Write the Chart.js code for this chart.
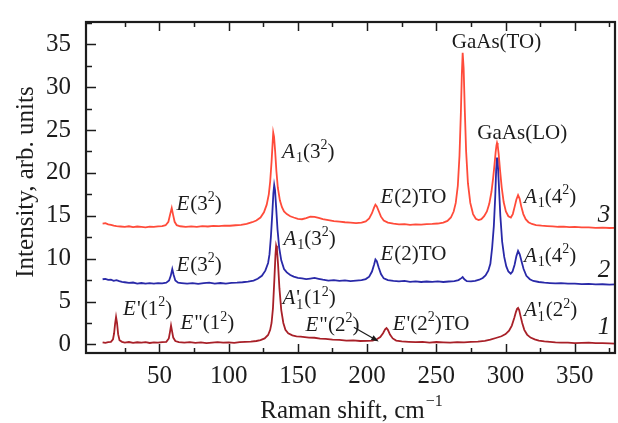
<!DOCTYPE html>
<html>
<head>
<meta charset="utf-8">
<script src="https://cdn.jsdelivr.net/npm/chart.js@4.4.0/dist/chart.umd.min.js"></script>
<style>
  html, body { margin: 0; padding: 0; background: #fff; }
</style>
</head>
<body>
<canvas id="raman" width="618" height="423"></canvas>
<script>
// spectra: [Raman shift, intensity]
const curve1 = [[9,0.25],[11,0.18],[13,0.27],[15,0.3],[16.5,0.6],[17.3,1.3],[18,2.4],[18.7,3.2],[19.4,2.5],[20.2,1.2],[21.2,0.5],[23,0.3],[25,0.22],[28,0.28],[31,0.18],[34,0.25],[37,0.2],[40,0.27],[43,0.17],[46,0.24],[49,0.2],[52,0.26],[55,0.3],[56.8,0.7],[57.6,1.4],[58.4,2.2],[59.2,1.5],[60,0.8],[61.5,0.4],[64,0.28],[68,0.2],[72,0.26],[76,0.18],[80,0.24],[84,0.15],[88,0.22],[92,0.27],[96,0.2],[100,0.25],[104,0.18],[108,0.27],[112,0.3],[116,0.33],[120,0.4],[123,0.5],[126,0.7],[128.5,1.1],[130,1.7],[131,2.5],[132,4.2],[133,7.5],[133.8,10.4],[134.3,11.5],[134.9,11.1],[135.7,9.3],[136.7,6.5],[138,4.0],[139.5,2.5],[141,1.7],[143,1.3],[146,1.05],[149,0.95],[152,0.9],[155,0.85],[158,0.8],[162,0.78],[166,0.68],[170,0.65],[175,0.55],[180,0.52],[185,0.45],[190,0.47],[195,0.4],[200,0.42],[204,0.45],[207,0.6],[209.5,0.85],[211.5,1.3],[213,1.75],[214,1.9],[215,1.7],[216.5,1.15],[218.5,0.7],[221,0.45],[225,0.35],[230,0.3],[235,0.26],[240,0.3],[245,0.22],[250,0.28],[255,0.24],[260,0.2],[265,0.27],[270,0.25],[275,0.3],[280,0.32],[285,0.42],[289,0.55],[293,0.75],[297,0.95],[300,1.2],[302.5,1.6],[304.5,2.2],[306.3,3.1],[307.5,3.8],[308.3,4.15],[309,4.25],[309.8,4.0],[310.8,3.3],[312,2.5],[313.5,1.7],[315.5,1.15],[318,0.8],[321,0.6],[324,0.45],[328,0.35],[332,0.3],[336,0.24],[340,0.2],[345,0.22],[350,0.15],[355,0.19],[360,0.2],[365,0.14],[370,0.15],[375,0.12],[379,0.1]];

const curve2 = [[9,7.6],[11,7.65],[13,7.52],[15,7.55],[17,7.42],[19,7.5],[21,7.38],[23,7.3],[25,7.25],[28,7.18],[31,7.22],[34,7.1],[37,7.16],[40,7.08],[43,7.15],[46,7.1],[49,7.14],[52,7.12],[55,7.2],[57,7.45],[58.2,8.0],[59.3,8.8],[60.3,8.1],[61.5,7.45],[63.5,7.2],[66,7.15],[70,7.08],[74,7.14],[78,7.06],[82,7.15],[86,7.2],[90,7.1],[94,7.16],[98,7.1],[102,7.18],[106,7.2],[110,7.25],[114,7.32],[118,7.45],[121,7.65],[124,8.0],[126.5,8.6],[128.5,9.5],[129.5,10.5],[130.5,12.5],[131.5,15.2],[132.3,17.6],[132.9,18.6],[133.5,18.0],[134.3,16.0],[135.3,13.4],[136.5,11.3],[138,9.8],[140,8.8],[142,8.4],[144.5,8.1],[147,7.9],[150,7.75],[153,7.7],[156,7.62],[159,7.68],[162,7.75],[165,7.65],[168,7.55],[172,7.45],[176,7.5],[180,7.42],[184,7.46],[188,7.38],[192,7.44],[196,7.5],[199,7.62],[201.5,7.9],[203.5,8.5],[205,9.3],[206,9.9],[207,9.7],[208.3,9.0],[210,8.2],[212,7.7],[215,7.5],[219,7.42],[223,7.36],[227,7.4],[231,7.3],[235,7.35],[239,7.28],[243,7.34],[247,7.3],[251,7.36],[255,7.28],[259,7.34],[263,7.38],[266,7.5],[267.8,7.7],[269,7.85],[270.2,7.6],[272,7.38],[275,7.35],[278,7.42],[281,7.55],[283.5,7.75],[285.5,8.05],[287.5,8.6],[289,9.4],[290.3,11.3],[291.5,13.8],[292.5,17.2],[293.2,20.4],[293.8,21.8],[294.4,21.0],[295.2,18.4],[296.2,15.0],[297.5,12.0],[299,10.2],[300.5,9.1],[302,8.5],[303.7,8.25],[305,8.5],[306.5,9.3],[307.8,10.3],[309,10.9],[310.2,10.5],[311.5,9.7],[313,8.8],[315,8.0],[317.5,7.6],[320,7.4],[324,7.28],[328,7.2],[332,7.16],[336,7.12],[340,7.14],[345,7.08],[350,7.1],[355,7.04],[360,7.06],[365,7.0],[370,7.02],[375,6.98],[379,7.0]];

const curve3 = [[9,14.1],[11,14.15],[13,14.0],[15,13.95],[17,13.85],[19,13.8],[22,13.75],[25,13.7],[28,13.78],[31,13.68],[34,13.75],[37,13.7],[40,13.66],[43,13.74],[46,13.7],[49,13.76],[52,13.8],[54.5,13.9],[56.5,14.3],[57.8,15.2],[58.9,15.9],[59.9,15.1],[61,14.3],[62.5,13.9],[65,13.78],[69,13.7],[73,13.76],[77,13.7],[81,13.8],[85,13.75],[89,13.82],[93,13.8],[97,13.86],[101,13.84],[105,13.9],[109,13.95],[113,14.05],[117,14.25],[120,14.45],[123,14.8],[125.5,15.4],[127.5,16.3],[129,17.5],[130,19.0],[131,21.3],[131.7,23.3],[132.2,24.7],[132.8,24.2],[133.6,22.5],[134.5,20.2],[135.5,18.3],[137,16.8],[138.5,16.0],[140,15.5],[142,15.2],[144.5,14.95],[147,14.8],[150,14.65],[153,14.6],[156,14.72],[159,14.9],[162,14.88],[165,14.75],[168,14.6],[172,14.5],[176,14.38],[180,14.32],[184,14.25],[188,14.2],[192,14.15],[196,14.2],[199,14.35],[201.5,14.7],[203.5,15.3],[205,15.95],[206,16.3],[207,16.1],[208.5,15.5],[210,14.9],[212,14.45],[215,14.2],[219,14.08],[223,14.0],[227,14.04],[231,13.95],[235,14.0],[239,13.96],[243,14.02],[247,14.05],[251,14.1],[255,14.2],[258,14.4],[260.5,14.8],[262.5,15.5],[264,16.5],[265.5,18.5],[266.7,22],[267.7,27],[268.4,31.5],[269,34.0],[269.7,32.2],[270.5,27.5],[271.5,22.5],[272.8,18.8],[274.5,16.5],[276.5,15.2],[278.5,14.65],[280.5,14.5],[282.5,14.6],[284.5,14.95],[286.5,15.5],[288.2,16.4],[289.8,17.8],[291,19.4],[292,21.0],[292.8,22.4],[293.4,23.2],[293.8,23.5],[294.3,23.2],[295,22.2],[296,20.3],[297.2,18.3],[298.6,16.6],[300.2,15.5],[302,14.95],[303.8,14.8],[305.2,15.2],[306.6,16.1],[307.8,16.9],[309,17.4],[310.1,17.0],[311.3,16.1],[312.8,15.2],[314.5,14.6],[316.5,14.25],[319,14.05],[322,13.92],[326,13.85],[330,13.8],[334,13.76],[338,13.72],[342,13.74],[346,13.68],[350,13.7],[355,13.66],[360,13.65],[365,13.6],[370,13.62],[375,13.58],[379,13.6]];

const xTicks = [50, 100, 150, 200, 250, 300, 350];
const yTicks = [0, 5, 10, 15, 20, 25, 30, 35];

const SERIF = '"Liberation Serif", "Times New Roman", serif';
const INK = '#1c1c1c';

// peak labels: parts are [text, style]; style n / i / sup / sub / stack
const peakLabels = [
  { x: 62.3, y: 16.3, parts: [['E', 'i'], ['(3'], ['2', 'sup'], [')']] },
  { x: 138.6, y: 22.4, parts: [['A', 'i'], ['1', 'sub'], ['(3'], ['2', 'sup'], [')']] },
  { x: 62.3, y: 9.2, parts: [['E', 'i'], ['(3'], ['2', 'sup'], [')']] },
  { x: 139.6, y: 12.2, parts: [['A', 'i'], ['1', 'sub'], ['(3'], ['2', 'sup'], [')']] },
  { x: 138.9, y: 5.3, parts: [['A', 'i'], ["'", 'stack', '1'], ['(1'], ['2', 'sup'], [')']] },
  { x: 23.8, y: 4.1, parts: [['E', 'i'], ["'"], ['(1'], ['2', 'sup'], [')']] },
  { x: 65.2, y: 2.4, parts: [['E', 'i'], ['"'], ['(1'], ['2', 'sup'], [')']] },
  { x: 155.5, y: 2.2, parts: [['E', 'i'], ['"'], ['(2'], ['2', 'sup'], [')']] },
  { x: 218.5, y: 2.3, parts: [['E', 'i'], ["'"], ['(2'], ['2', 'sup'], [')TO']] },
  { x: 313.2, y: 3.9, parts: [['A', 'i'], ["'", 'stack', '1'], ['(2'], ['2', 'sup'], [')']] },
  { x: 209.6, y: 17.1, parts: [['E', 'i'], ['(2)TO']] },
  { x: 209.6, y: 10.5, parts: [['E', 'i'], ['(2)TO']] },
  { x: 293.4, y: 35.2, center: true, parts: [['GaAs(TO)']] },
  { x: 312.0, y: 24.6, center: true, parts: [['GaAs(LO)']] },
  { x: 313.2, y: 17.1, parts: [['A', 'i'], ['1', 'sub'], ['(4'], ['2', 'sup'], [')']] },
  { x: 313.2, y: 10.3, parts: [['A', 'i'], ['1', 'sub'], ['(4'], ['2', 'sup'], [')']] },
  { x: 371.5, y: 15.0, center: true, big: true, parts: [['3', 'i']] },
  { x: 371.5, y: 8.6, center: true, big: true, parts: [['2', 'i']] },
  { x: 371.5, y: 2.0, center: true, big: true, parts: [['1', 'i']] }
];

function fontFor(style, big) {
  const size = big ? 25 : 21;
  if (style === 'i') return 'italic ' + size + 'px ' + SERIF;
  if (style === 'sup' || style === 'sub' || style === 'stack') return '14px ' + SERIF;
  return size + 'px ' + SERIF;
}

function partWidth(ctx, p, big) {
  if (p[1] === 'stack') {
    ctx.font = fontFor('n', big);
    const w1 = ctx.measureText(p[0]).width;
    ctx.font = fontFor('sub', big);
    return Math.max(w1, ctx.measureText(p[2]).width) + 1;
  }
  ctx.font = fontFor(p[1], big);
  return ctx.measureText(p[0]).width + (p[1] === 'i' ? 1 : 0);
}

function drawRich(ctx, lab, px, py) {
  const widths = lab.parts.map(p => partWidth(ctx, p, lab.big));
  const total = widths.reduce((a, b) => a + b, 0);
  let cx = lab.center ? px - total / 2 : px;
  ctx.textBaseline = 'middle';
  ctx.textAlign = 'left';
  lab.parts.forEach((p, i) => {
    const st = p[1];
    if (st === 'stack') {
      ctx.font = fontFor('n', lab.big);
      ctx.fillText(p[0], cx, py);
      ctx.font = fontFor('sub', lab.big);
      ctx.fillText(p[2], cx, py + 6);
    } else {
      ctx.font = fontFor(st, lab.big);
      const dy = st === 'sup' ? -7 : st === 'sub' ? 6 : 0;
      ctx.fillText(p[0], cx, py + dy);
    }
    cx += widths[i];
  });
}

// frame with inward ticks, axis titles, peak labels
const decorPlugin = {
  id: 'decor',
  afterDatasetsDraw(chart) {
    const { ctx, chartArea: a, scales: { x, y } } = chart;
    ctx.save();
    ctx.strokeStyle = INK;
    ctx.lineWidth = 2.2;
    ctx.strokeRect(a.left, a.top, a.right - a.left, a.bottom - a.top);

    ctx.lineWidth = 1.5;
    ctx.beginPath();
    for (let v = 25; v < x.max; v += 25) {
      const px = Math.round(x.getPixelForValue(v)) + 0.5;
      const len = v % 50 === 0 ? 9 : 5;
      ctx.moveTo(px, a.bottom); ctx.lineTo(px, a.bottom - len);
      ctx.moveTo(px, a.top); ctx.lineTo(px, a.top + len);
    }
    for (let v = 0; v < y.max; v += 2.5) {
      const py = Math.round(y.getPixelForValue(v)) + 0.5;
      const len = v % 5 === 0 ? 10 : 6;
      ctx.moveTo(a.left, py); ctx.lineTo(a.left + len, py);
    }
    ctx.stroke();

    ctx.fillStyle = INK;
    peakLabels.forEach(lab => drawRich(ctx, lab, x.getPixelForValue(lab.x), y.getPixelForValue(lab.y)));

    // arrow from E"(2^2) to its peak
    const x0 = x.getPixelForValue(190.4), y0 = y.getPixelForValue(2.0);
    const x1 = x.getPixelForValue(208.4), y1 = y.getPixelForValue(0.35);
    const ang = Math.atan2(y1 - y0, x1 - x0);
    ctx.lineWidth = 1.2;
    ctx.beginPath();
    ctx.moveTo(x0, y0); ctx.lineTo(x1 - 4 * Math.cos(ang), y1 - 4 * Math.sin(ang));
    ctx.stroke();
    ctx.beginPath();
    ctx.moveTo(x1, y1);
    ctx.lineTo(x1 - 8 * Math.cos(ang - 0.35), y1 - 8 * Math.sin(ang - 0.35));
    ctx.lineTo(x1 - 8 * Math.cos(ang + 0.35), y1 - 8 * Math.sin(ang + 0.35));
    ctx.closePath();
    ctx.fill();

    // axis titles
    ctx.textBaseline = 'alphabetic';
    ctx.font = '25px ' + SERIF;
    const main = 'Raman shift, cm';
    const wMain = ctx.measureText(main).width;
    ctx.font = '16px ' + SERIF;
    const wSup = ctx.measureText('\u22121').width;
    const sx = 351 - (wMain + wSup) / 2;
    ctx.font = '25px ' + SERIF;
    ctx.textAlign = 'left';
    ctx.fillText(main, sx, 418);
    ctx.font = '16px ' + SERIF;
    ctx.fillText('\u22121', sx + wMain + 1, 406);

    ctx.translate(33, 182);
    ctx.rotate(-Math.PI / 2);
    ctx.textAlign = 'center';
    ctx.font = '25px ' + SERIF;
    ctx.fillText('Intensity, arb. units', 0, 0);
    ctx.restore();
  }
};

const toPts = arr => arr.map(p => ({ x: p[0], y: p[1] }));

const ctx = document.getElementById('raman').getContext('2d');
new Chart(ctx, {
  type: 'line',
  data: {
    datasets: [
      { data: toPts(curve3), borderColor: '#ff4b3a', borderWidth: 1.8 },
      { data: toPts(curve2), borderColor: '#2929a8', borderWidth: 1.8 },
      { data: toPts(curve1), borderColor: '#a82028', borderWidth: 1.8 }
    ]
  },
  options: {
    responsive: false,
    animation: false,
    devicePixelRatio: 1,
    elements: { point: { radius: 0 }, line: { tension: 0 } },
    layout: { padding: { top: 12, right: 3, left: 0, bottom: 0 } },
    plugins: { legend: { display: false }, tooltip: { enabled: false } },
    scales: {
      x: {
        type: 'linear',
        min: -3,
        max: 379,
        afterBuildTicks: s => { s.ticks = xTicks.map(v => ({ value: v })); },
        afterFit: s => { s.height = 70; },
        grid: { display: false },
        border: { display: false },
        ticks: { font: { family: SERIF, size: 25 }, color: INK, padding: 0, maxRotation: 0, autoSkip: false }
      },
      y: {
        min: -1,
        max: 37.6,
        afterBuildTicks: s => { s.ticks = yTicks.map(v => ({ value: v })); },
        afterFit: s => { s.width = 86; },
        grid: { display: false },
        border: { display: false },
        ticks: { font: { family: SERIF, size: 25 }, color: INK, padding: 7, autoSkip: false }
      }
    }
  },
  plugins: [decorPlugin]
});
</script>
</body>
</html>
